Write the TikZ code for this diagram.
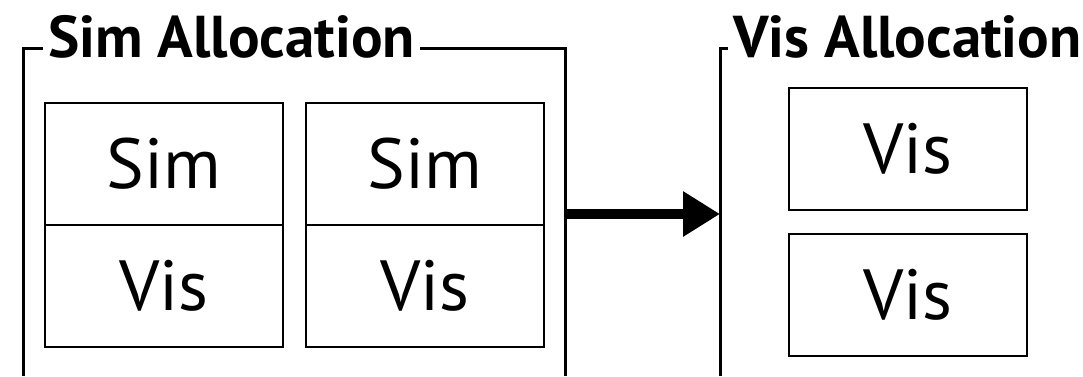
\documentclass[tikz,border=0pt]{standalone}
\usepackage{fontspec}
\setmainfont{PT Sans}
\usetikzlibrary{arrows.meta}

\begin{document}
\begin{tikzpicture}[x=1pt, y=-1pt,
	cell/.style={draw, rectangle, line width=1.8pt, minimum width=238pt, minimum height=122pt, inner sep=0pt, font=\fontsize{71}{74}\selectfont},
	title/.style={anchor=base west, inner ysep=0pt, inner xsep=5pt, font=\bfseries\fontsize{59}{62}\selectfont},
	frame/.style={line width=3pt}]
				\useasboundingbox (0,0) rectangle (1083,376);
				
				% Sim allocation: two nodes, each split into sim and vis
				\node (title1) [title] at (43,57) {Sim Allocation};
				\node (sim1) [cell] at (164,164) {Sim};
				\node (vis1) [cell, below of=sim1, node distance=122pt] {Vis};
				\node (sim2) [cell] at (425,164) {Sim};
				\node (vis2) [cell, below of=sim2, node distance=122pt] {Vis};
				
				% Vis allocation
				\node (title2) [title] at (728,57) {Vis Allocation};
				\node (vis3) [cell] at (908,149) {Vis};
				\node (vis4) [cell, below of=vis3, node distance=146pt] {Vis};
				
				% Frames
				\coordinate (top) at (0,48);
				\draw[frame] (title1.west |- top) -| (23,376);
				\draw[frame] (title1.east |- top) -| (565,376);
				\draw[frame] (title2.west |- top) -| (720,376);
				
				% Arrows
				\coordinate (left) at (565,214);
				\coordinate (right) at (720,214);
				\draw[-{Triangle[length=37pt, width=43pt]}, line width=10pt] (left) -- (right);
				
			\end{tikzpicture}
\end{document}
